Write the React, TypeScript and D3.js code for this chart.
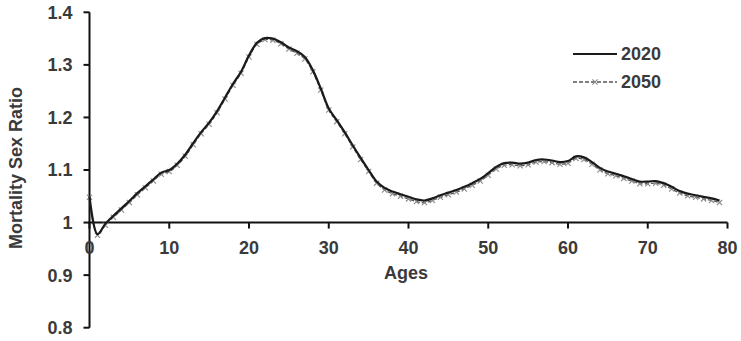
import React, { useRef, useEffect } from "react";
import * as d3 from "d3";

const ages = d3.range(0, 80);

const ratio2020 = [
  1.05, 0.978, 0.998, 1.013, 1.027, 1.041, 1.056, 1.069, 1.082, 1.095,
  1.1, 1.112, 1.129, 1.151, 1.172, 1.19, 1.212, 1.238, 1.264, 1.287,
  1.318, 1.342, 1.351, 1.35, 1.343, 1.333, 1.326, 1.315, 1.29, 1.255,
  1.217, 1.195, 1.172, 1.147, 1.123, 1.1, 1.078, 1.066, 1.059, 1.054,
  1.049, 1.044, 1.042, 1.046, 1.052, 1.057, 1.062, 1.068, 1.075, 1.083,
  1.094, 1.106, 1.113, 1.114, 1.112, 1.114, 1.119, 1.12, 1.118, 1.115,
  1.117, 1.126, 1.124, 1.115, 1.104, 1.097, 1.093, 1.088, 1.083, 1.078,
  1.078, 1.079, 1.075, 1.068, 1.06, 1.055, 1.052, 1.049, 1.046, 1.042,
];

const ratio2050 = [
  1.048, 0.976, 0.995, 1.01, 1.024, 1.038, 1.053, 1.066, 1.079, 1.092,
  1.097, 1.109, 1.126, 1.148, 1.169, 1.187, 1.209, 1.235, 1.261, 1.284,
  1.315, 1.339, 1.348, 1.347, 1.34, 1.33, 1.322, 1.311, 1.287, 1.252,
  1.214, 1.192, 1.169, 1.144, 1.12, 1.097, 1.075, 1.062, 1.055, 1.05,
  1.045, 1.04, 1.038, 1.042, 1.048, 1.053, 1.058, 1.064, 1.071, 1.079,
  1.09, 1.102, 1.109, 1.11, 1.108, 1.11, 1.115, 1.116, 1.114, 1.111,
  1.113, 1.122, 1.12, 1.111, 1.1, 1.093, 1.089, 1.084, 1.079, 1.074,
  1.074, 1.075, 1.071, 1.064, 1.056, 1.051, 1.048, 1.045, 1.042, 1.038,
];

const xTicks = [0, 10, 20, 30, 40, 50, 60, 70, 80];
const yTicks = [0.8, 0.9, 1, 1.1, 1.2, 1.3, 1.4];
const seriesNames = ["2020", "2050"];

const App = () => {
  const chartRef = useRef<SVGSVGElement>(null);

  useEffect(() => {
    const svg = d3.select(chartRef.current);
    svg.selectAll("*").remove();

    const font = "'Liberation Sans', Arial, sans-serif";
    const textColor = "#3a3a3a";
    const fs = 18;

    const x = d3.scaleLinear().domain([0, 80]).range([89.5, 727.5]);
    const y = d3.scaleLinear().domain([0.8, 1.4]).range([327.7, 12.3]);

    // y axis
    const yAxis = svg.append("g").attr("transform", `translate(${x(0)},0)`);
    yAxis
      .append("line")
      .attr("y1", y(1.4))
      .attr("y2", y(0.8))
      .attr("stroke", "#111")
      .attr("stroke-width", 2);
    yTicks.forEach((t) => {
      yAxis
        .append("line")
        .attr("x1", -6)
        .attr("x2", 0)
        .attr("y1", y(t))
        .attr("y2", y(t))
        .attr("stroke", "#111")
        .attr("stroke-width", 2);
      yAxis
        .append("text")
        .attr("x", -17)
        .attr("y", y(t))
        .attr("dy", "0.36em")
        .attr("text-anchor", "end")
        .attr("font-family", font)
        .attr("font-weight", "bold")
        .attr("font-size", fs)
        .attr("fill", textColor)
        .text(String(t));
    });

    // x axis at ratio = 1
    const xAxis = svg.append("g").attr("transform", `translate(0,${y(1)})`);
    xAxis
      .append("line")
      .attr("x1", x(0) - 1)
      .attr("x2", x(80))
      .attr("stroke", "#111")
      .attr("stroke-width", 2);
    xTicks.forEach((t) => {
      xAxis
        .append("line")
        .attr("x1", x(t))
        .attr("x2", x(t))
        .attr("y1", 0)
        .attr("y2", 6)
        .attr("stroke", "#111")
        .attr("stroke-width", 2);
      xAxis
        .append("text")
        .attr("x", x(t))
        .attr("y", 31)
        .attr("text-anchor", "middle")
        .attr("font-family", font)
        .attr("font-weight", "bold")
        .attr("font-size", fs)
        .attr("fill", textColor)
        .text(String(t));
    });

    svg
      .append("text")
      .attr("x", 406)
      .attr("y", 279)
      .attr("text-anchor", "middle")
      .attr("font-family", font)
      .attr("font-weight", "bold")
      .attr("font-size", fs)
      .attr("fill", textColor)
      .text("Ages");

    svg
      .append("text")
      .attr("transform", "translate(22,168) rotate(-90)")
      .attr("text-anchor", "middle")
      .attr("font-family", font)
      .attr("font-weight", "bold")
      .attr("font-size", fs)
      .attr("fill", textColor)
      .text("Mortality Sex Ratio");

    const line = d3
      .line<number>()
      .x((_, i) => x(ages[i]))
      .y((d) => y(d))
      .curve(d3.curveCatmullRom);

    // 2050: dashed gray with x markers
    svg
      .append("path")
      .attr("d", line(ratio2050))
      .attr("fill", "none")
      .attr("stroke", "#555")
      .attr("stroke-width", 1.3)
      .attr("stroke-dasharray", "4,2");

    const cross = (g: any, cx: number, cy: number, r: number) => {
      g.append("path")
        .attr("d", `M${cx - r},${cy - r}L${cx + r},${cy + r}M${cx - r},${cy + r}L${cx + r},${cy - r}`)
        .attr("stroke", "#8a8a8a")
        .attr("stroke-width", 1.1)
        .attr("fill", "none");
    };

    const markers = svg.append("g");
    ratio2050.forEach((v, i) => cross(markers, x(ages[i]), y(v), 2.6));

    // 2020: solid black
    svg
      .append("path")
      .attr("d", line(ratio2020))
      .attr("fill", "none")
      .attr("stroke", "#1a1a1a")
      .attr("stroke-width", 2.2);

    // legend
    const legend = svg.append("g").attr("transform", "translate(573,0)");
    seriesNames.forEach((name, i) => {
      const ly = 54 + i * 28;
      legend
        .append("line")
        .attr("x1", 0)
        .attr("x2", 44)
        .attr("y1", ly)
        .attr("y2", ly)
        .attr("stroke", i === 0 ? "#1a1a1a" : "#555")
        .attr("stroke-width", i === 0 ? 2.2 : 1.3)
        .attr("stroke-dasharray", i === 0 ? null : "4,2");
      if (i === 1) cross(legend, 22, ly, 2.6);
      legend
        .append("text")
        .attr("x", 48)
        .attr("y", ly)
        .attr("dy", "0.36em")
        .attr("font-family", font)
        .attr("font-weight", "bold")
        .attr("font-size", fs)
        .attr("fill", textColor)
        .text(name);
    });
  }, []);

  return (
    <svg
      ref={chartRef}
      width={741}
      height={341}
      style={{ position: "absolute", left: 0, top: 0, background: "#fff" }}
    />
  );
};

export default App;
